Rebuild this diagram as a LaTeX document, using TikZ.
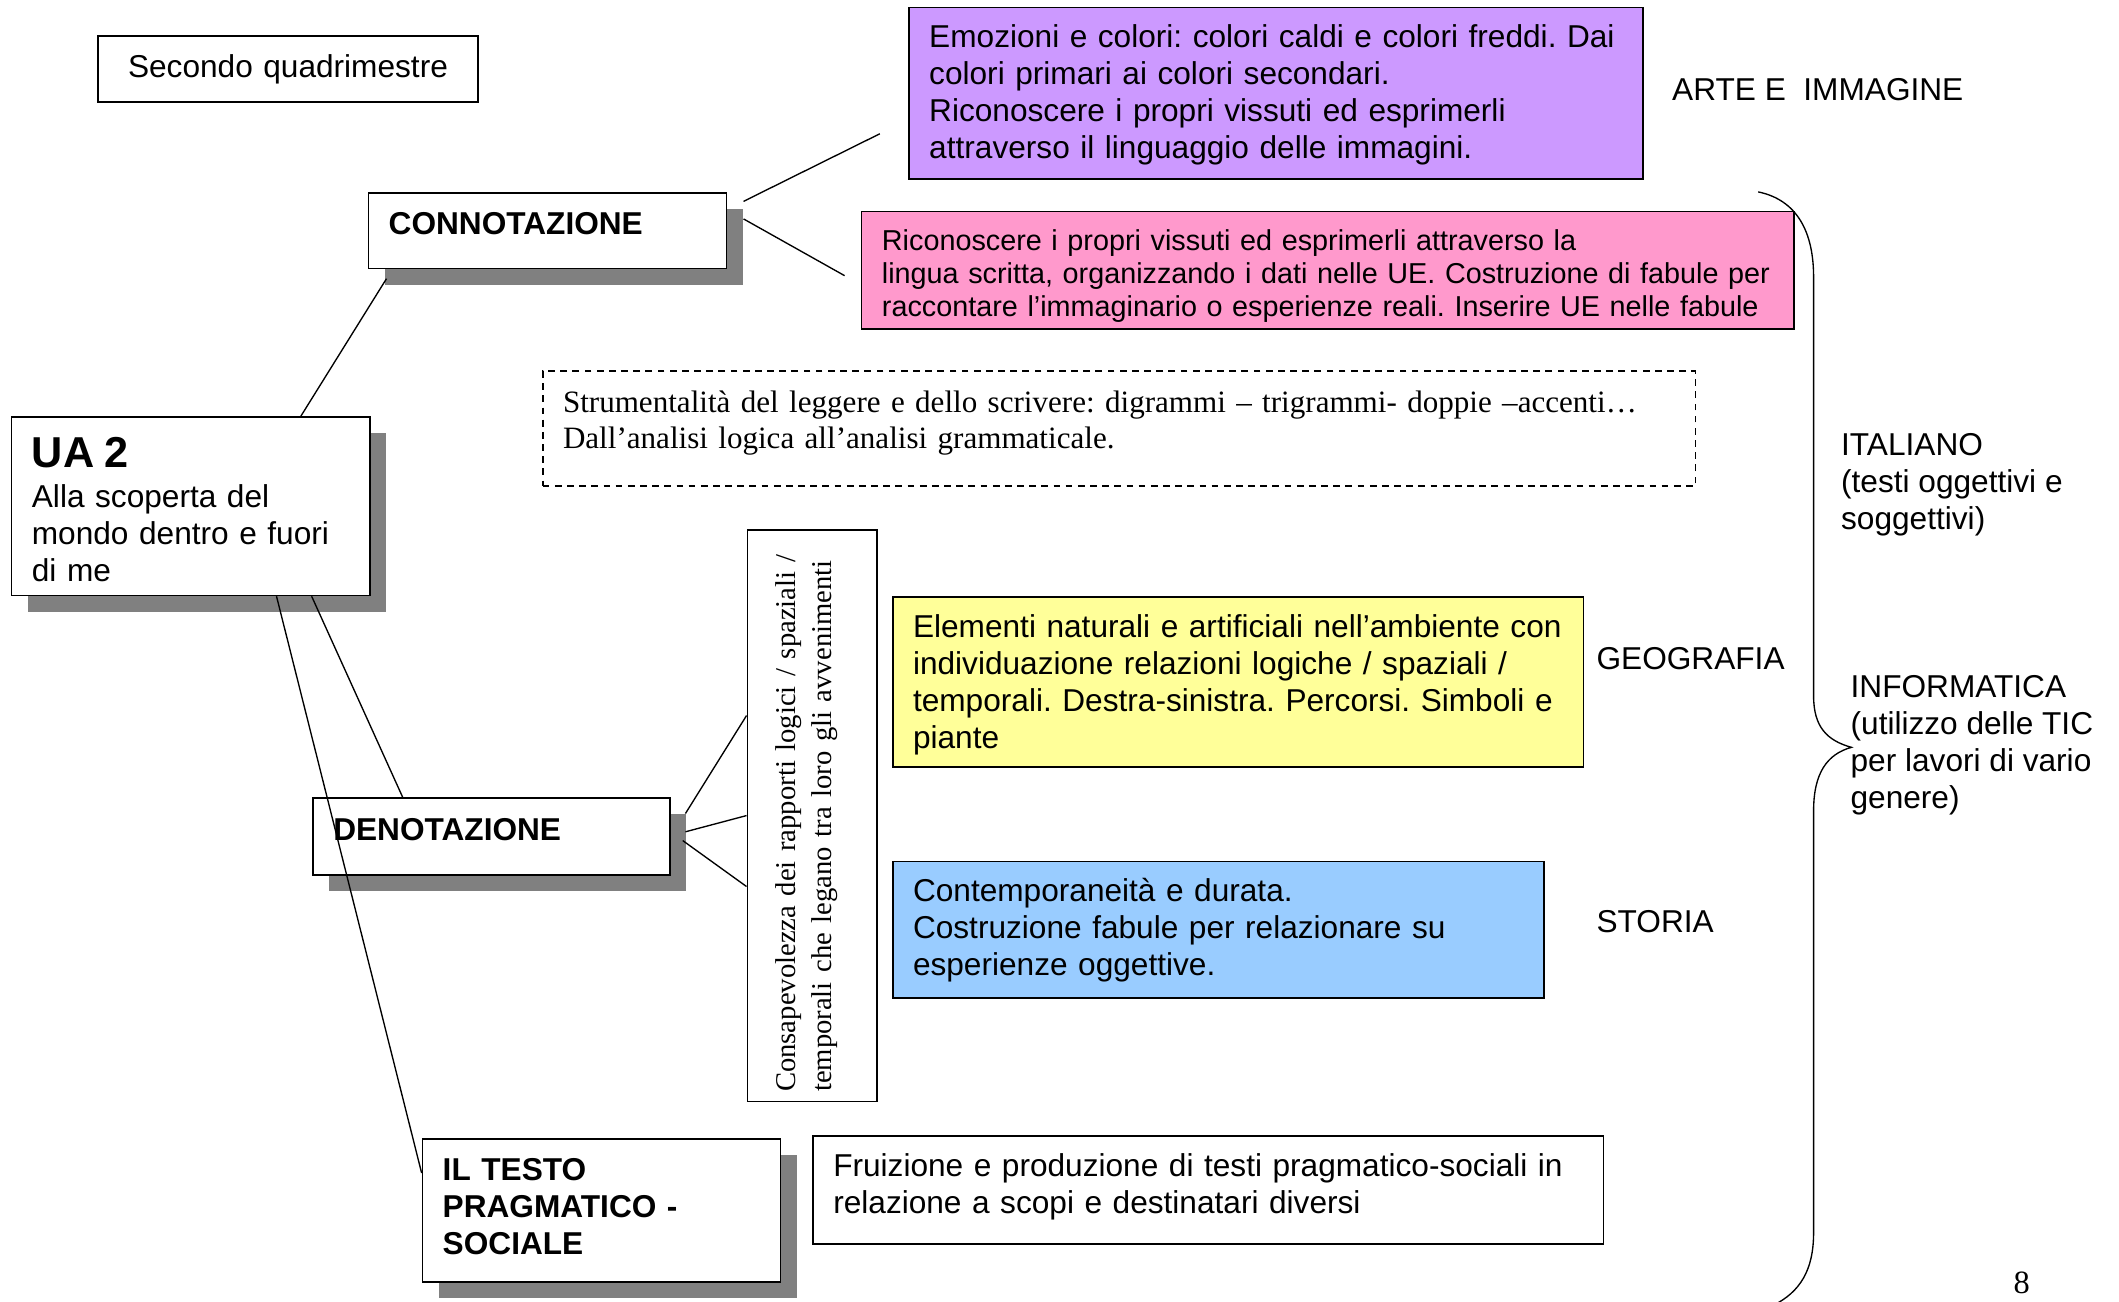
\documentclass[tikz,border=0pt]{standalone}
\usepackage{fontspec}
\setmainfont{Liberation Sans}
\newfontfamily\timesfont{Liberation Serif}
\usetikzlibrary{positioning, shadows}
\definecolor{lilla}{HTML}{CC99FF}
\definecolor{rosa}{HTML}{FF99CC}
\definecolor{giallo}{HTML}{FFFF99}
\definecolor{azzurro}{HTML}{99CCFF}
\definecolor{ombra}{HTML}{808080}
\frenchspacing
\hyphenpenalty=10000
\exhyphenpenalty=10000
\tikzset{
	box/.style={
		rectangle,
		draw,
		line width=0.6pt,
		align=left,
		inner xsep=7.5pt,
		inner ysep=0pt,
		anchor=north west,
		font=\fontsize{11.7}{13.65}\selectfont,
	},
	shadowbox/.style={
		box,
		fill=white,
		font=\fontsize{11.7}{13.65}\selectfont\bfseries,
		general shadow={fill=ombra, shadow xshift=6pt, shadow yshift=-6pt},
	},
	dashbox/.style={
		box,
		dash pattern=on 2.5pt off 2pt,
		font=\timesfont\fontsize{11.5}{13.5}\selectfont,
	},
	subject/.style={
		align=left,
		inner sep=0pt,
		font=\fontsize{11.7}{13.65}\selectfont,
	},
	link/.style={
		line width=0.5pt,
	},
}

\begin{document}
\begin{tikzpicture}[x=0.5pt, y=-0.5pt]
	\useasboundingbox (0,0) rectangle (1568,963);

	% Place nodes
	\node [box, text width=125.5pt, minimum height=24.5pt, align=center] (periodo) at (72,26) {Secondo quadrimestre};

	\node [shadowbox, text width=117.5pt, minimum height=66pt, font=\fontsize{11.7}{13.65}\selectfont] (ua) at (8,308)
		{\rule{0pt}{13.5pt}{\fontsize{16}{18}\selectfont\bfseries UA 2}\\[1pt]Alla scoperta del\\mondo dentro e fuori\\di me};
	\node [shadowbox, text width=117.5pt, minimum height=28pt] (connot) at (272,142) {CONNOTAZIONE\rule[-5pt]{0pt}{5pt}};
	\node [shadowbox, text width=117pt, minimum height=28.5pt] (denot) at (231,590) {DENOTAZIONE\rule[-5pt]{0pt}{5pt}};
	\node [shadowbox, text width=117.5pt, minimum height=53pt] (testo) at (312,842) {IL TESTO\\PRAGMATICO -\\SOCIALE\rule[-3pt]{0pt}{3pt}};

	\node [box, fill=lilla, text width=256.5pt, minimum height=63.5pt] (arte) at (672,5)
		{\rule{0pt}{9.5pt}Emozioni e colori: colori caldi e colori freddi. Dai\\colori primari ai colori secondari.\\Riconoscere i propri vissuti ed esprimerli\\attraverso il linguaggio delle immagini.};
	\node [box, fill=rosa, text width=330pt, minimum height=43.5pt, font=\fontsize{10.65}{12.3}\selectfont] (ital) at (637,156)
		{\rule{0pt}{11.8pt}Riconoscere i propri vissuti ed esprimerli attraverso la\\\mbox{lingua scritta, organizzando i dati nelle UE. Costruzione di fabule per}\\\mbox{raccontare l’immaginario o esperienze reali. Inserire UE nelle fabule}};
	\node [dashbox, text width=411.5pt, minimum height=42.5pt] (strum) at (401,274)
		{Strumentalità del leggere e dello scrivere: digrammi – trigrammi- doppie –accenti…\\Dall’analisi logica all’analisi grammaticale.\rule[-6.5pt]{0pt}{6.5pt}};

	\node [box, anchor=center, rotate=90, inner xsep=3.5pt, text width=204.5pt, minimum height=48pt,
		font=\timesfont\fontsize{10.6}{13.5}\selectfont] (cons) at (601,603.5)
		{\mbox{Consapevolezza dei rapporti logici / spaziali /}\\\mbox{temporali che legano tra loro gli avvenimenti}\rule[-6.3pt]{0pt}{6.3pt}};

	\node [box, fill=giallo, text width=240.5pt, minimum height=63pt] (geo) at (660,441)
		{\rule{0pt}{10.5pt}Elementi naturali e artificiali nell’ambiente con\\individuazione relazioni logiche / spaziali /\\temporali. Destra-sinistra. Percorsi. Simboli e\\piante};
	\node [box, fill=azzurro, text width=226pt, minimum height=50.5pt] (stor) at (660,637)
		{Contemporaneità e durata.\\Costruzione fabule per relazionare su\\esperienze oggettive.};
	\node [box, text width=277.5pt, minimum height=40pt] (fruiz) at (601,840)
		{Fruizione e produzione di testi pragmatico-sociali in\\relazione a scopi e destinatari diversi\rule[-5pt]{0pt}{5pt}};

	% Subjects
	\node [subject, anchor=west] (artelab) at (1237,66) {ARTE E\ \ IMMAGINE};
	\node [subject, anchor=west] (geolab) at (1181,487) {GEOGRAFIA};
	\node [subject, anchor=west] (storlab) at (1181,682) {STORIA};
	\node [subject, anchor=north west] (itallab) at (1362,320.5) {ITALIANO\\(testi oggettivi e\\soggettivi)};
	\node [subject, anchor=north west] (infolab) at (1369,499.5) {INFORMATICA\\(utilizzo delle TIC\\per lavori di vario\\genere)};
	\node [inner sep=0pt, font=\timesfont\fontsize{12}{14}\selectfont] (pagina) at (1496,949) {8};

	% Connectors
	\draw [link] ([shift={(12,7)}]connot.north east) -- ([shift={(-21,94)}]arte.north west);
	\draw [link] ([shift={(12,20)}]connot.north east) -- ([shift={(-12,48)}]ital.north west);
	\draw [link] ([shift={(14,7)}]connot.south west) -- ([shift={(81.5,0)}]ua.north);
	\draw [link] ([shift={(89.5,0)}]ua.south) -- ([shift={(67,0)}]denot.north west);
	\draw [link] ([shift={(63.5,0)}]ua.south) -- ([shift={(0,26)}]testo.north west);

	\draw [link] ([shift={(11,12)}]denot.north east) -- ([shift={(0,-74)}]cons.north);
	\draw [link] ([shift={(11,25.5)}]denot.north east) -- (cons.north);
	\draw [link] ([shift={(9,32)}]denot.north east) -- ([shift={(0,52.5)}]cons.north);

	% Brace
	\draw [link] (1301,142) .. controls (1330,148) and (1342,172) .. (1342,205)
		-- (1342,515) .. controls (1342,538) and (1352,548) .. (1370,553)
		.. controls (1352,558) and (1342,572) .. (1342,600)
		-- (1342,912) .. controls (1342,940) and (1332,956) .. (1312,966);

\end{tikzpicture}
\end{document}
